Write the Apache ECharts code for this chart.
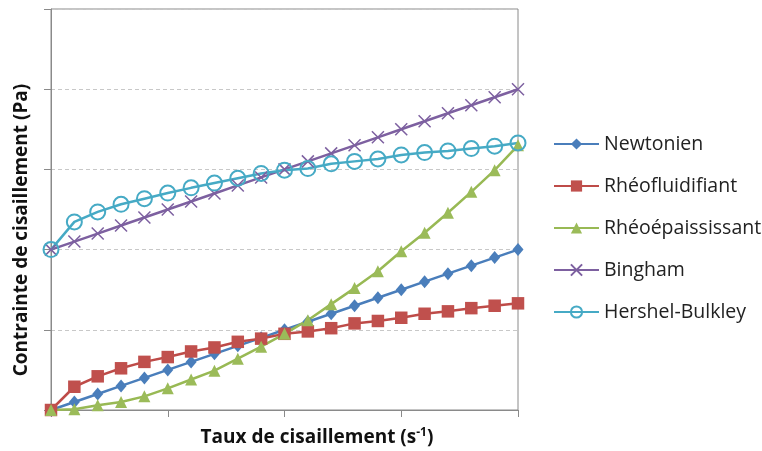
<!DOCTYPE html>
<html><head><meta charset="utf-8">
<script src="https://cdn.jsdelivr.net/npm/echarts@6/dist/echarts.min.js"></script>
<style>html,body{margin:0;padding:0;background:#fff}#c{width:762px;height:451px}</style>
</head><body><div id="c"></div>
<script>
const shearRate = [0,1,2,3,4,5,6,7,8,9,10,11,12,13,14,15,16,17,18,19,20];
const newtonien = [0,0.1,0.2,0.3,0.4,0.5,0.6,0.7,0.8,0.9,1.0,1.1,1.2,1.3,1.4,1.5,1.6,1.7,1.8,1.9,2.0];
const rheofluidifiant = [0,0.29,0.42,0.52,0.60,0.66,0.73,0.78,0.85,0.89,0.95,0.98,1.02,1.08,1.11,1.15,1.20,1.23,1.27,1.30,1.33];
const rheoepaississant = [0,0.01,0.06,0.10,0.17,0.27,0.38,0.49,0.64,0.79,0.95,1.12,1.32,1.52,1.73,1.98,2.21,2.46,2.72,2.99,3.30];
const bingham = [2.0,2.1,2.2,2.3,2.4,2.5,2.6,2.7,2.8,2.9,3.0,3.1,3.2,3.3,3.4,3.5,3.6,3.7,3.8,3.9,4.0];
const hershelBulkley = [2.0,2.345,2.47,2.565,2.635,2.705,2.77,2.83,2.89,2.95,2.99,3.01,3.07,3.10,3.13,3.18,3.21,3.23,3.26,3.29,3.33];
const seriesNames = ['Newtonien','Rhéofluidifiant','Rhéoépaississant','Bingham','Hershel-Bulkley'];
const xTitle = 'Taux de cisaillement (s';
const xTitleSup = '-1';
const yTitle = 'Contrainte de cisaillement (Pa)';

const FONT = 'Open Sans';
function pts(arr){ return shearRate.map((x,i)=>[x,arr[i]]); }

const chart = echarts.init(document.getElementById('c'), null, {renderer:'canvas'});
chart.setOption({
  animation:false,
  backgroundColor:'#fff',
  textStyle:{fontFamily:FONT},
  grid:{left:51,right:244,top:9,bottom:41,outerBoundsMode:'none',containLabel:false,show:true,borderColor:'#8a8a8a',borderWidth:1},
  legend:{
    orient:'vertical', left:548, top:129, itemGap:22, itemWidth:45, itemHeight:14,
    textStyle:{fontFamily:FONT,fontSize:19.5,color:'#222'},
    data:seriesNames
  },
  xAxis:{
    type:'value', min:0, max:20, interval:5,
    axisLine:{show:true,lineStyle:{color:'#8a8a8a',width:1}},
    axisTick:{show:true,length:7,lineStyle:{color:'#8a8a8a'}},
    axisLabel:{show:false}, splitLine:{show:false}
  },
  yAxis:{
    type:'value', min:0, max:5, interval:1,
    axisLine:{show:true,lineStyle:{color:'#8a8a8a',width:1}},
    axisTick:{show:true,length:7,lineStyle:{color:'#8a8a8a'}}, axisLabel:{show:false},
    splitLine:{show:true,lineStyle:{color:'#c8c8c8',type:[4,3],width:1}}
  },
  graphic:[
    {type:'text', x:317, y:438, style:{
      text:'{a|'+xTitle+'}{b|'+xTitleSup+'}{a|)}', align:'center', verticalAlign:'middle',
      rich:{a:{fontFamily:FONT,fontSize:19,fontWeight:'bold',fill:'#111'},
            b:{fontFamily:FONT,fontSize:12,fontWeight:'bold',fill:'#111',verticalAlign:'top',padding:[0,0,10,0]}}}},
    {type:'text', x:22, y:230, rotation:Math.PI/2, style:{
      text:yTitle, align:'center', verticalAlign:'middle',
      fontFamily:FONT,fontSize:19,fontWeight:'bold',fill:'#111'}}
  ],
  series:[
    {name:seriesNames[0],type:'line',data:pts(newtonien),symbol:'diamond',symbolSize:[11,13],
      lineStyle:{color:'#4A7EBB',width:2.5},itemStyle:{color:'#4A7EBB'}},
    {name:seriesNames[1],type:'line',data:pts(rheofluidifiant),symbol:'rect',symbolSize:12.5,
      lineStyle:{color:'#BE4B48',width:2.5},itemStyle:{color:'#C0504D'}},
    {name:seriesNames[2],type:'line',data:pts(rheoepaississant),symbol:'triangle',symbolSize:12,
      lineStyle:{color:'#98B954',width:2.5},itemStyle:{color:'#9BBB59'}},
    {name:seriesNames[3],type:'line',data:pts(bingham),symbol:'path://M0,0L10,10M10,0L0,10',symbolSize:12,
      lineStyle:{color:'#7D60A0',width:2.5},itemStyle:{color:'rgba(0,0,0,0)',borderColor:'#7D60A0',borderWidth:1.5}},
    {name:seriesNames[4],type:'line',data:pts(hershelBulkley),symbol:'circle',symbolSize:15,
      lineStyle:{color:'#46AAC5',width:2.5},itemStyle:{color:'rgba(255,255,255,0)',borderColor:'#46AAC5',borderWidth:2}}
  ]
});
</script></body></html>
